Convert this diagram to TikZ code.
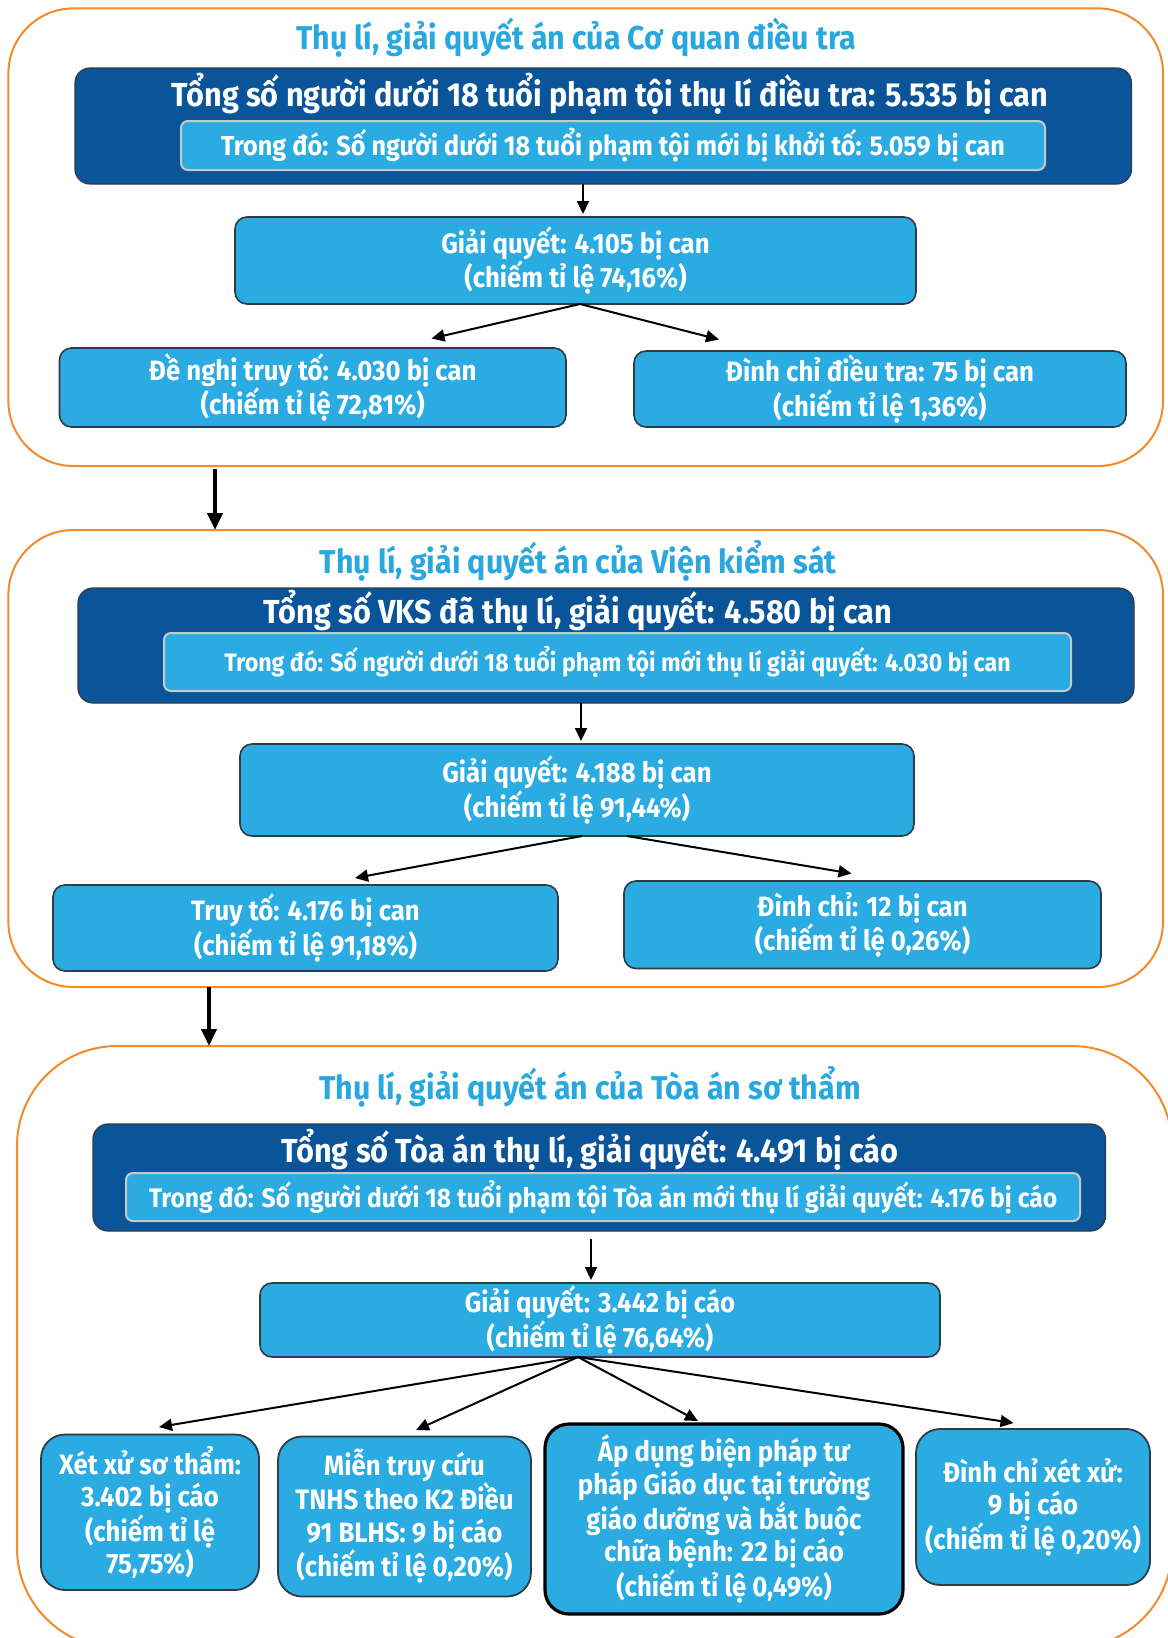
\documentclass[tikz,border=0pt]{standalone}
\usepackage{fontspec}
\setmainfont{Fira Sans}[FakeStretch=0.92]
\usetikzlibrary{arrows.meta,calc}
\definecolor{orangec}{HTML}{F58A2A}
\definecolor{titleblue}{HTML}{29A8E0}
\definecolor{darkblue}{HTML}{0A5499}
\definecolor{lightblue}{HTML}{2AABE2}
\definecolor{edgec}{HTML}{2F3B46}
\definecolor{grayb}{HTML}{C8C8C8}
\tikzset{
  sect/.style={draw=orangec, line width=2pt, inner sep=0pt, outer sep=0pt},
  secttitle/.style={text=titleblue, font={\bfseries\fontsize{33}{36}\selectfont}, inner sep=0pt},
  darkbox/.style={fill=darkblue, draw=edgec, line width=1.2pt, rounded corners=15pt, inner sep=0pt, outer sep=0pt},
  darktitle/.style={text=white, font={\bfseries\fontsize{33.3}{38}\selectfont}, inner sep=0pt},
  innerbox/.style={fill=lightblue, draw=grayb, line width=2pt, rounded corners=7pt, inner sep=0pt, outer sep=0pt, text=white, font={\bfseries\fontsize{27.4}{30}\selectfont}},
  lbox/.style={fill=lightblue, draw=edgec, line width=1.6pt, rounded corners=12pt, inner sep=0pt, outer sep=0pt, text=white, align=center, font={\bfseries\fontsize{28}{32.4}\selectfont}},
  bbox/.style={lbox, rounded corners=24pt, line width=1.8pt},
  arr/.style={-{Triangle[length=13pt,width=12pt]}, line width=2pt, shorten >=3pt},
  bigarr/.style={-{Triangle[length=17pt,width=15pt]}, line width=4pt},
}
\begin{document}
\begin{tikzpicture}[x=1pt,y=-1pt]
\useasboundingbox (0,0) rectangle (1167,1638);
\fill[white] (0,0) rectangle (1167,1638);

% ---------- Section 1 ----------
\node[sect, rounded corners=65pt, minimum width=1154.6pt, minimum height=457.6pt] (s1) at (585.7,237.2) {};
\node[secttitle] (h1) at (576,37.6) {Thụ lí, giải quyết án của Cơ quan điều tra};
\node[darkbox, minimum width=1056.5pt, minimum height=116pt] (d1) at (603.25,126) {};
\node[darktitle] (dt1) at (610,94) {Tổng số người dưới 18 tuổi phạm tội thụ lí điều tra: 5.535 bị can};
\node[innerbox, minimum width=864pt, minimum height=49pt] (i1) at (613,145.5) {Trong đó: Số người dưới 18 tuổi phạm tội mới bị khởi tố: 5.059 bị can};
\node[lbox, minimum width=681pt, minimum height=87pt] (gq1) at (575.5,260.5) {Giải quyết: 4.105 bị can\\(chiếm tỉ lệ 74,16\%)};
\node[lbox, minimum width=506.5pt, minimum height=79pt] (l1) at (312.75,387.5) {Đề nghị truy tố: 4.030 bị can\\(chiếm tỉ lệ 72,81\%)};
\node[lbox, minimum width=492pt, minimum height=76pt] (r1) at (880,389) {Đình chỉ điều tra: 75 bị can\\(chiếm tỉ lệ 1,36\%)};
\coordinate (o1) at (580,304);
\coordinate (e1l) at (431.5,338.5);
\coordinate (e1r) at (719,339.5);
\draw[arr] ([xshift=7.5pt]gq1.north |- d1.south) -- ([xshift=7.5pt]gq1.north);
\draw[arr, shorten >=0pt] (o1) -- (e1l);
\draw[arr, shorten >=0pt] (o1) -- (e1r);

% ---------- Section 2 ----------
\node[sect, rounded corners=65pt, minimum width=1154.6pt, minimum height=457pt] (s2) at (585.7,758.5) {};
\coordinate (c12) at (215,469);
\draw[bigarr] (c12) -- (c12 |- s2.north);
\node[secttitle] (h2) at (578,561) {Thụ lí, giải quyết án của Viện kiểm sát};
\node[darkbox, minimum width=1056pt, minimum height=115pt] (d2) at (606,645.5) {};
\node[darktitle] (dt2) at (578,611) {Tổng số VKS đã thụ lí, giải quyết: 4.580 bị can};
\node[innerbox, font={\bfseries\fontsize{25.2}{30}\selectfont}, minimum width=907pt, minimum height=58pt] (i2) at (617.5,662) {Trong đó: Số người dưới 18 tuổi phạm tội mới thụ lí giải quyết: 4.030 bị can};
\node[lbox, minimum width=674pt, minimum height=92pt] (gq2) at (577,790) {Giải quyết: 4.188 bị can\\(chiếm tỉ lệ 91,44\%)};
\node[lbox, minimum width=505pt, minimum height=86pt] (l2) at (305.5,928) {Truy tố: 4.176 bị can\\(chiếm tỉ lệ 91,18\%)};
\node[lbox, minimum width=477pt, minimum height=87.5pt] (r2) at (862.5,924.75) {Đình chỉ: 12 bị can\\(chiếm tỉ lệ 0,26\%)};
\coordinate (o2l) at (582,836);
\coordinate (o2r) at (627,836);
\coordinate (e2l) at (355,878);
\coordinate (e2r) at (851.5,873.5);
\draw[arr] ([xshift=4pt]gq2.north |- d2.south) -- ([xshift=4pt]gq2.north);
\draw[arr, shorten >=0pt] (o2l) -- (e2l);
\draw[arr, shorten >=0pt] (o2r) -- (e2r);

% ---------- Section 3 ----------
\node[sect, rounded corners=100pt, minimum width=1155pt, minimum height=602pt] (s3) at (594.5,1347) {};
\coordinate (c23) at (209,987);
\draw[bigarr] (c23) -- (c23 |- s3.north);
\node[secttitle] (h3) at (590,1086.6) {Thụ lí, giải quyết án của Tòa án sơ thẩm};
\node[darkbox, minimum width=1012.5pt, minimum height=107pt] (d3) at (599.25,1177.5) {};
\node[darktitle] (dt3) at (590,1150) {Tổng số Tòa án thụ lí, giải quyết: 4.491 bị cáo};
\node[innerbox, font={\bfseries\fontsize{26.8}{30}\selectfont}, minimum width=954pt, minimum height=48pt] (i3) at (603,1197) {Trong đó: Số người dưới 18 tuổi phạm tội Tòa án mới thụ lí giải quyết: 4.176 bị cáo};
\coordinate (c3a) at (591,1239);
\node[lbox, minimum width=680pt, minimum height=74pt] (gq3) at (600,1320) {Giải quyết: 3.442 bị cáo\\(chiếm tỉ lệ 76,64\%)};
\draw[arr] (c3a) -- (c3a |- gq3.north);
\node[bbox, minimum width=218pt, minimum height=155.5pt] (ba) at (150,1512.25) {Xét xử sơ thẩm:\\3.402 bị cáo\\(chiếm tỉ lệ\\75,75\%)};
\node[bbox, minimum width=253pt, minimum height=160pt] (bb) at (404.5,1516.5) {Miễn truy cứu\\TNHS theo K2 Điều\\91 BLHS: 9 bị cáo\\(chiếm tỉ lệ 0,20\%)};
\node[bbox, draw=black, line width=3.2pt, minimum width=358pt, minimum height=190pt] (bc) at (724,1519) {Áp dụng biện pháp tư\\pháp Giáo dục tại trường\\giáo dưỡng và bắt buộc\\chữa bệnh: 22 bị cáo\\(chiếm tỉ lệ 0,49\%)};
\node[bbox, minimum width=234pt, minimum height=156pt] (bd) at (1033,1507) {Đình chỉ xét xử:\\9 bị cáo\\(chiếm tỉ lệ 0,20\%)};
\coordinate (o3) at (578,1357);
\coordinate (e3a) at (159,1427);
\coordinate (e3b) at (416,1430);
\coordinate (e3c) at (698,1421);
\coordinate (e3d) at (1013.5,1423);
\draw[arr, shorten >=0pt] (o3) -- (e3a);
\draw[arr, shorten >=0pt] (o3) -- (e3b);
\draw[arr, shorten >=0pt] (o3) -- (e3c);
\draw[arr, shorten >=0pt] (o3) -- (e3d);
\end{tikzpicture}
\end{document}
